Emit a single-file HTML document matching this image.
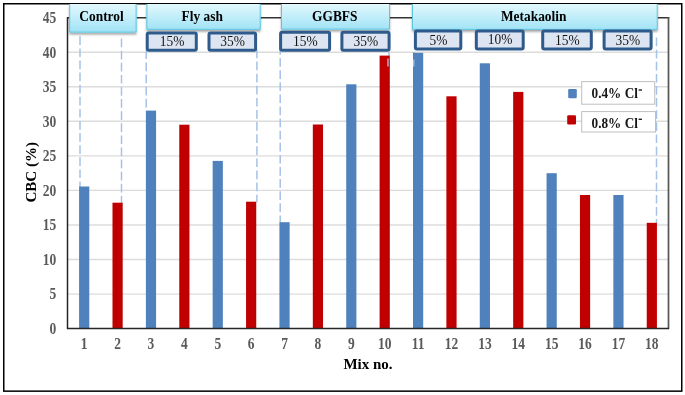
<!DOCTYPE html>
<html><head><meta charset="utf-8"><style>
html,body{margin:0;padding:0;background:#fff;width:685px;height:395px;overflow:hidden}
svg{display:block;filter:blur(0.35px)}
text{font-family:"Liberation Serif",serif}
.ax{font-size:13.5px;font-weight:bold;fill:#5a5a5a}
.tt{font-size:15px;font-weight:bold;fill:#000}
.hd{font-size:15.5px;font-weight:bold;fill:#000}
.sb{font-size:14.3px;fill:#161616}
.lg{font-size:14px;font-weight:bold;fill:#161616}
</style></head><body>
<svg width="685" height="395" viewBox="0 0 685 395">
<rect x="3.75" y="3.75" width="678" height="387.4" fill="none" stroke="#000" stroke-width="1.5"/>
<line x1="68" x2="668" y1="294.1" y2="294.1" stroke="#dcdcdc" stroke-width="1.4"/>
<line x1="68" x2="668" y1="259.5" y2="259.5" stroke="#dcdcdc" stroke-width="1.4"/>
<line x1="68" x2="668" y1="225.0" y2="225.0" stroke="#dcdcdc" stroke-width="1.4"/>
<line x1="68" x2="668" y1="190.4" y2="190.4" stroke="#dcdcdc" stroke-width="1.4"/>
<line x1="68" x2="668" y1="155.9" y2="155.9" stroke="#dcdcdc" stroke-width="1.4"/>
<line x1="68" x2="668" y1="121.3" y2="121.3" stroke="#dcdcdc" stroke-width="1.4"/>
<line x1="68" x2="668" y1="86.8" y2="86.8" stroke="#dcdcdc" stroke-width="1.4"/>
<line x1="68" x2="668" y1="52.2" y2="52.2" stroke="#dcdcdc" stroke-width="1.4"/>
<line x1="67" x2="669.3" y1="17.75" y2="17.75" stroke="#333" stroke-width="1.5"/>
<line x1="668.5" x2="668.5" y1="17" y2="329" stroke="#555" stroke-width="1.7"/>
<line x1="80" x2="80" y1="36.3" y2="187.0" stroke="#a6c2e8" stroke-width="1.5" stroke-dasharray="8.7 3.4"/>
<line x1="121.5" x2="121.5" y1="38.6" y2="203.2" stroke="#a6c2e8" stroke-width="1.5" stroke-dasharray="8.7 3.4"/>
<line x1="146.2" x2="146.2" y1="50.4" y2="111.1" stroke="#a6c2e8" stroke-width="1.5" stroke-dasharray="8.7 3.4"/>
<line x1="256.9" x2="256.9" y1="49.5" y2="202.2" stroke="#a6c2e8" stroke-width="1.5" stroke-dasharray="8.7 3.4"/>
<line x1="280.2" x2="280.2" y1="46" y2="222.7" stroke="#a6c2e8" stroke-width="1.5" stroke-dasharray="8.7 3.4"/>
<line x1="389" x2="389" y1="52" y2="56.1" stroke="#a6c2e8" stroke-width="1.5" stroke-dasharray="8.7 3.4"/>
<line x1="413.5" x2="413.5" y1="52" y2="53.3" stroke="#a6c2e8" stroke-width="1.5" stroke-dasharray="8.7 3.4"/>
<line x1="656.5" x2="656.5" y1="37.6" y2="223.3" stroke="#a6c2e8" stroke-width="1.5" stroke-dasharray="8.7 3.4"/>
<rect x="79.09" y="186.5" width="10.2" height="141.5" fill="#4f81bd"/>
<rect x="112.49" y="202.7" width="10.2" height="125.3" fill="#c00000"/>
<rect x="145.88" y="110.6" width="10.2" height="217.4" fill="#4f81bd"/>
<rect x="179.27" y="124.7" width="10.2" height="203.3" fill="#c00000"/>
<rect x="212.66" y="160.9" width="10.2" height="167.1" fill="#4f81bd"/>
<rect x="246.05" y="201.7" width="10.2" height="126.3" fill="#c00000"/>
<rect x="279.43" y="222.2" width="10.2" height="105.8" fill="#4f81bd"/>
<rect x="312.82" y="124.5" width="10.2" height="203.5" fill="#c00000"/>
<rect x="346.21" y="84.3" width="10.2" height="243.7" fill="#4f81bd"/>
<rect x="379.60" y="55.6" width="10.2" height="272.4" fill="#c00000"/>
<rect x="413.00" y="52.8" width="10.2" height="275.2" fill="#4f81bd"/>
<rect x="446.38" y="96.3" width="10.2" height="231.7" fill="#c00000"/>
<rect x="479.77" y="63.3" width="10.2" height="264.7" fill="#4f81bd"/>
<rect x="513.16" y="91.9" width="10.2" height="236.1" fill="#c00000"/>
<rect x="546.55" y="173.2" width="10.2" height="154.8" fill="#4f81bd"/>
<rect x="579.94" y="195.0" width="10.2" height="133.0" fill="#c00000"/>
<rect x="613.34" y="195.0" width="10.2" height="133.0" fill="#4f81bd"/>
<rect x="646.73" y="222.8" width="10.2" height="105.2" fill="#c00000"/>
<line x1="388" x2="388" y1="58.6" y2="66.6" stroke="#b4c6e0" stroke-width="1.3"/>
<line x1="413.8" x2="413.8" y1="59.5" y2="66.6" stroke="#a9c3e6" stroke-width="1.3"/>
<line x1="67.5" x2="67.5" y1="17" y2="329" stroke="#262626" stroke-width="1.5"/>
<line x1="67" x2="669" y1="328.5" y2="328.5" stroke="#262626" stroke-width="1.5"/>
<text transform="translate(56.2,333.9) scale(1,1.23)" text-anchor="end" class="ax">0</text>
<text transform="translate(56.2,299.4) scale(1,1.23)" text-anchor="end" class="ax">5</text>
<text transform="translate(56.2,264.8) scale(1,1.23)" text-anchor="end" class="ax">10</text>
<text transform="translate(56.2,230.3) scale(1,1.23)" text-anchor="end" class="ax">15</text>
<text transform="translate(56.2,195.7) scale(1,1.23)" text-anchor="end" class="ax">20</text>
<text transform="translate(56.2,161.2) scale(1,1.23)" text-anchor="end" class="ax">25</text>
<text transform="translate(56.2,126.6) scale(1,1.23)" text-anchor="end" class="ax">30</text>
<text transform="translate(56.2,92.1) scale(1,1.23)" text-anchor="end" class="ax">35</text>
<text transform="translate(56.2,57.5) scale(1,1.23)" text-anchor="end" class="ax">40</text>
<text transform="translate(56.2,23.0) scale(1,1.23)" text-anchor="end" class="ax">45</text>
<text transform="translate(84.19,349.2) scale(1,1.19)" text-anchor="middle" class="ax">1</text>
<text transform="translate(117.59,349.2) scale(1,1.19)" text-anchor="middle" class="ax">2</text>
<text transform="translate(150.97,349.2) scale(1,1.19)" text-anchor="middle" class="ax">3</text>
<text transform="translate(184.37,349.2) scale(1,1.19)" text-anchor="middle" class="ax">4</text>
<text transform="translate(217.75,349.2) scale(1,1.19)" text-anchor="middle" class="ax">5</text>
<text transform="translate(251.15,349.2) scale(1,1.19)" text-anchor="middle" class="ax">6</text>
<text transform="translate(284.53,349.2) scale(1,1.19)" text-anchor="middle" class="ax">7</text>
<text transform="translate(317.93,349.2) scale(1,1.19)" text-anchor="middle" class="ax">8</text>
<text transform="translate(351.31,349.2) scale(1,1.19)" text-anchor="middle" class="ax">9</text>
<text transform="translate(384.70,349.2) scale(1,1.19)" text-anchor="middle" class="ax">10</text>
<text transform="translate(418.10,349.2) scale(1,1.19)" text-anchor="middle" class="ax">11</text>
<text transform="translate(451.49,349.2) scale(1,1.19)" text-anchor="middle" class="ax">12</text>
<text transform="translate(484.88,349.2) scale(1,1.19)" text-anchor="middle" class="ax">13</text>
<text transform="translate(518.26,349.2) scale(1,1.19)" text-anchor="middle" class="ax">14</text>
<text transform="translate(551.65,349.2) scale(1,1.19)" text-anchor="middle" class="ax">15</text>
<text transform="translate(585.04,349.2) scale(1,1.19)" text-anchor="middle" class="ax">16</text>
<text transform="translate(618.44,349.2) scale(1,1.19)" text-anchor="middle" class="ax">17</text>
<text transform="translate(651.83,349.2) scale(1,1.19)" text-anchor="middle" class="ax">18</text>
<text x="368" y="369" text-anchor="middle" class="tt">Mix no.</text>
<text transform="translate(35.8,172.3) rotate(-90)" text-anchor="middle" class="tt">CBC (%)</text>
<defs>
<linearGradient id="hg" x1="0" y1="0" x2="0" y2="1">
<stop offset="0" stop-color="#e2f8fd"/><stop offset="1" stop-color="#a0e3f6"/>
</linearGradient>
<filter id="sh" x="-10%" y="-10%" width="120%" height="140%">
<feGaussianBlur in="SourceAlpha" stdDeviation="1"/><feOffset dx="0" dy="1.5"/>
<feComponentTransfer><feFuncA type="linear" slope="0.35"/></feComponentTransfer>
<feMerge><feMergeNode/><feMergeNode in="SourceGraphic"/></feMerge>
</filter>
</defs>
<rect x="69.2" y="4" width="67.4" height="28.6" fill="url(#hg)" filter="url(#sh)"/>
<polyline points="69.7,4 69.7,32.1 136.1,32.1 136.1,4" fill="none" stroke="#5fc6e0" stroke-width="1"/>
<text transform="translate(101.5,21) scale(0.865,1)" text-anchor="middle" class="hd">Control</text>
<rect x="146.4" y="4" width="114.3" height="25.8" fill="url(#hg)" filter="url(#sh)"/>
<polyline points="146.9,4 146.9,29.3 260.2,29.3 260.2,4" fill="none" stroke="#5fc6e0" stroke-width="1"/>
<text transform="translate(202.2,21) scale(0.865,1)" text-anchor="middle" class="hd">Fly ash</text>
<rect x="281.0" y="4" width="109.0" height="25.6" fill="url(#hg)" filter="url(#sh)"/>
<polyline points="281.5,4 281.5,29.1 389.5,29.1 389.5,4" fill="none" stroke="#5fc6e0" stroke-width="1"/>
<text transform="translate(334.8,21) scale(0.865,1)" text-anchor="middle" class="hd">GGBFS</text>
<rect x="412.0" y="4" width="245.7" height="25.9" fill="url(#hg)" filter="url(#sh)"/>
<polyline points="412.5,4 412.5,29.4 657.2,29.4 657.2,4" fill="none" stroke="#5fc6e0" stroke-width="1"/>
<text transform="translate(533.7,21) scale(0.865,1)" text-anchor="middle" class="hd">Metakaolin</text>
<rect x="147.2" y="33.1" width="49.1" height="17.2" rx="1.5" fill="#dce5f1" stroke="#2e5b8b" stroke-width="3"/>
<text transform="translate(172.1,45.7) scale(0.94,1)" text-anchor="middle" class="sb">15%</text>
<rect x="209.0" y="33.1" width="46.6" height="17.2" rx="1.5" fill="#dce5f1" stroke="#2e5b8b" stroke-width="3"/>
<text transform="translate(232.6,45.7) scale(0.94,1)" text-anchor="middle" class="sb">35%</text>
<rect x="280.6" y="32.3" width="49.0" height="18.0" rx="1.5" fill="#dce5f1" stroke="#2e5b8b" stroke-width="3"/>
<text transform="translate(305.4,45.6) scale(0.94,1)" text-anchor="middle" class="sb">15%</text>
<rect x="341.9" y="32.3" width="47.2" height="18.0" rx="1.5" fill="#dce5f1" stroke="#2e5b8b" stroke-width="3"/>
<text transform="translate(365.8,45.6) scale(0.94,1)" text-anchor="middle" class="sb">35%</text>
<rect x="415.4" y="31.1" width="45.4" height="17.9" rx="1.5" fill="#dce5f1" stroke="#2e5b8b" stroke-width="3"/>
<text transform="translate(438.4,44.7) scale(0.94,1)" text-anchor="middle" class="sb">5%</text>
<rect x="476.3" y="31.1" width="46.9" height="17.9" rx="1.5" fill="#dce5f1" stroke="#2e5b8b" stroke-width="3"/>
<text transform="translate(500.1,44.4) scale(0.94,1)" text-anchor="middle" class="sb">10%</text>
<rect x="542.7" y="31.1" width="48.6" height="17.9" rx="1.5" fill="#dce5f1" stroke="#2e5b8b" stroke-width="3"/>
<text transform="translate(567.3,44.8) scale(0.94,1)" text-anchor="middle" class="sb">15%</text>
<rect x="604.1" y="31.1" width="47.0" height="17.9" rx="1.5" fill="#dce5f1" stroke="#2e5b8b" stroke-width="3"/>
<text transform="translate(627.9,44.8) scale(0.94,1)" text-anchor="middle" class="sb">35%</text>
<rect x="568.2" y="89.1" width="8.6" height="9.2" rx="1.2" fill="#4f81bd"/>
<rect x="567.2" y="115.2" width="8.8" height="9.3" rx="1.2" fill="#c00000"/>
<rect x="581.7" y="81.6" width="73" height="22.6" fill="#fff" stroke="#bfbfbf" stroke-width="1"/>
<rect x="581.7" y="111.6" width="73.8" height="20.4" fill="#fff" stroke="#bfbfbf" stroke-width="1"/>
<text transform="translate(591.6,98.3) scale(0.945,1.05)" class="lg">0.4% Cl</text>
<text transform="translate(591.6,127.9) scale(0.945,1.05)" class="lg">0.8% Cl</text>
<rect x="638.6" y="89.3" width="3.4" height="1.4" fill="#262626"/>
<rect x="638.6" y="118.6" width="3.4" height="1.4" fill="#262626"/>
</svg>
</body></html>
